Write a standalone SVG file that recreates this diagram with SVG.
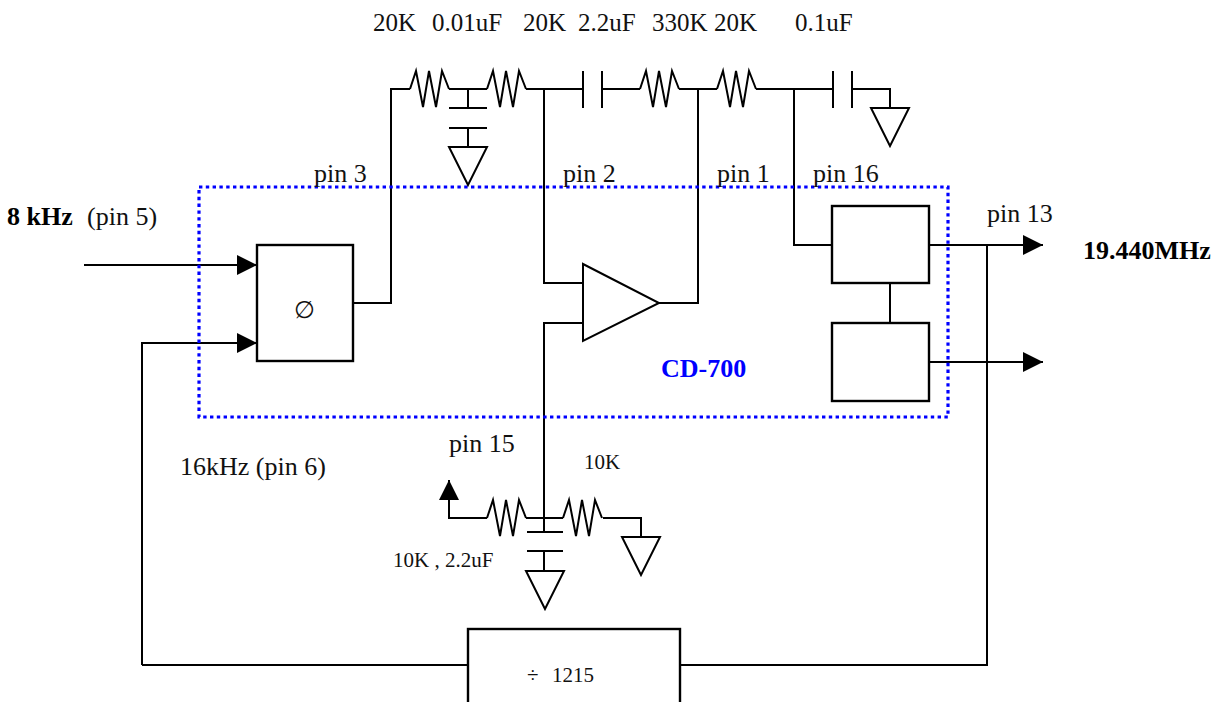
<svg xmlns="http://www.w3.org/2000/svg" xmlns:xlink="http://www.w3.org/1999/xlink" width="1225" height="702" viewBox="0 0 1225 702">
<style>
  .w { fill: none; stroke: #000; stroke-width: 2; }
  .box { fill: #fff; stroke: #000; stroke-width: 2.4; }
  .t { font-family: "Liberation Serif", "Times New Roman", serif; font-size: 26px; fill: #111; }
  .tl { font-family: "Liberation Serif", "Times New Roman", serif; font-size: 25px; fill: #111; }
  .s { font-family: "Liberation Serif", "Times New Roman", serif; font-size: 21px; fill: #111; }
  .b { font-family: "Liberation Serif", "Times New Roman", serif; font-size: 26px; font-weight: bold; fill: #000; }
  .blue { fill: #0000ff; }
  .dots { fill: none; stroke: #0000ff; stroke-width: 3.2; stroke-dasharray: 3.4 3.4; }
</style>
<defs>
  <path id="res" d="M0,0 L6,-18 L13,18 L19,-18 L26,18 L32,-18 L39,0" fill="none" stroke="#000" stroke-width="2"/>
  <path id="gnd" d="M-19,0 L19,0 L0,38 Z" fill="#fff" stroke="#000" stroke-width="2"/>
  <marker id="arr" markerUnits="userSpaceOnUse" markerWidth="22" markerHeight="22" refX="20" refY="10" orient="auto" viewBox="0 0 22 22">
    <path d="M0,0 L20,10 L0,20 Z" fill="#000"/>
  </marker>
</defs>
<rect width="1225" height="702" fill="#fff"/>

<g id="connectors">
  <path class="w" d="M84,265 H257" marker-end="url(#arr)"/>
  <path class="w" d="M142,665 V343 H257" marker-end="url(#arr)"/>
  <path class="w" d="M353,303 H391 V89 H410"/>
  <path class="w" d="M449,89 H487"/>
  <path class="w" d="M526,89 H583"/>
  <path class="w" d="M602,89 H640"/>
  <path class="w" d="M679,89 H717"/>
  <path class="w" d="M756,89 H833"/>
  <path class="w" d="M852,89 H890 V108"/>
  <path class="w" d="M544,89 V283 H583"/>
  <path class="w" d="M659,303 H698 V89"/>
  <path class="w" d="M794,89 V245 H832"/>
  <path class="w" d="M583,323 H544 V532"/>
  <path class="w" d="M929,245 H1043" marker-end="url(#arr)"/>
  <path class="w" d="M929,362 H1043" marker-end="url(#arr)"/>
  <path class="w" d="M890,283 V323"/>
  <path class="w" d="M987,245 V665 H680"/>
  <path class="w" d="M468,665 H142"/>
  <path class="w" d="M487,518 H449 V480" marker-end="url(#arr)"/>
  <path class="w" d="M526,518 H563"/>
  <path class="w" d="M603,518 H641 V537"/>
</g>

<g id="boundary-cd700">
  <rect class="dots" x="199" y="187" width="749" height="230"/>
  <text class="b blue" x="661" y="377">CD-700</text>
</g>

<g id="r-20k-1"><use xlink:href="#res" x="410" y="89"/></g>
<g id="c-0.01uF">
  <path class="w" d="M468,89 V108 M449,108 H487 M449,128 H487 M468,128 V147"/>
  <use xlink:href="#gnd" x="468" y="147"/>
</g>
<g id="r-20k-2"><use xlink:href="#res" x="487" y="89"/></g>
<g id="c-2.2uF"><path class="w" d="M583,71 V108 M602,71 V108"/></g>
<g id="r-330k"><use xlink:href="#res" x="640" y="89"/></g>
<g id="r-20k-3"><use xlink:href="#res" x="717" y="89"/></g>
<g id="c-0.1uF">
  <path class="w" d="M833,71 V108 M852,71 V108"/>
  <use xlink:href="#gnd" x="890" y="108"/>
</g>

<g id="phase-detector">
  <rect class="box" x="257" y="245" width="96" height="116"/>
  <text x="304" y="318" text-anchor="middle" font-family="DejaVu Serif, serif" font-size="24" fill="#111">∅</text>
</g>

<g id="amplifier">
  <polygon points="583,264 583,341 659,303" fill="#fff" stroke="#000" stroke-width="2"/>
</g>

<g id="block-1"><rect class="box" x="832" y="206" width="97" height="77"/></g>
<g id="block-2"><rect class="box" x="832" y="323" width="97" height="78"/></g>

<g id="pin15-network">
  <use xlink:href="#res" x="487" y="518"/>
  <use xlink:href="#res" x="563" y="518"/>
  <path class="w" d="M527,532 H563 M527,551 H563 M544,551 V571"/>
  <use xlink:href="#gnd" x="545" y="571"/>
  <use xlink:href="#gnd" x="641" y="537"/>
</g>

<g id="divider">
  <rect class="box" x="468" y="629" width="212" height="100"/>
  <text class="s" x="527" y="682">÷</text>
  <text class="s" x="552" y="682">1215</text>
</g>

<g id="labels">
  <text class="tl" x="373" y="31">20K</text>
  <text class="tl" x="432" y="31">0.01uF</text>
  <text class="tl" x="523" y="31">20K</text>
  <text class="tl" x="578" y="31">2.2uF</text>
  <text class="tl" x="652" y="31">330K</text>
  <text class="tl" x="714" y="31">20K</text>
  <text class="tl" x="795" y="31">0.1uF</text>
  <text class="b" x="7" y="225">8 kHz</text>
  <text class="t" x="87" y="225">(pin 5)</text>
  <text class="t" x="314" y="182">pin 3</text>
  <text class="t" x="563" y="182">pin 2</text>
  <text class="t" x="717" y="182">pin 1</text>
  <text class="t" x="813" y="182">pin 16</text>
  <text class="t" x="987" y="222">pin 13</text>
  <text class="b" x="1083" y="259">19.440MHz</text>
  <text class="t" x="449" y="452">pin 15</text>
  <text class="s" x="584" y="469">10K</text>
  <text class="s" x="393" y="567">10K , 2.2uF</text>
  <text class="t" x="180" y="475">16kHz (pin 6)</text>
</g>
</svg>
